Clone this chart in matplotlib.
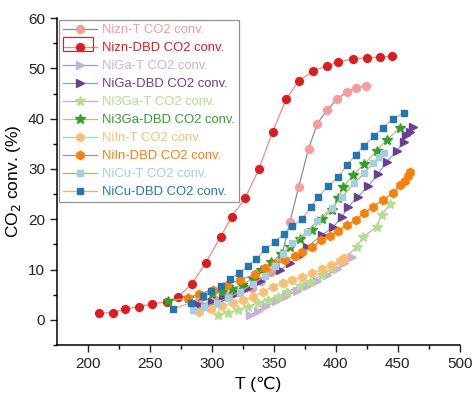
import matplotlib
matplotlib.use("Agg")
import matplotlib.pyplot as plt
from matplotlib.patches import Rectangle

plt.rcParams['font.family'] = ['Liberation Sans', 'DejaVu Sans']

# ---- data ----
nizn_t_T = [290, 302, 313, 322, 332, 340, 348, 356, 363, 370, 378, 385, 393, 401, 409, 416, 424]
nizn_t_v = [3.8, 4.2, 4.8, 5.6, 6.4, 7.8, 9.5, 12.3, 19.5, 26.4, 34.0, 39.0, 41.7, 43.9, 45.3, 46.1, 46.5]

nizn_dbd_T = [209, 220, 230, 241, 252, 264, 273, 284, 295, 307, 316, 327, 338, 349,
              360, 370, 382, 393, 402, 414, 425, 436, 445]
nizn_dbd_v = [1.4, 1.4, 2.2, 2.6, 3.2, 3.6, 4.6, 7.2, 11.3, 16.5, 20.5, 24.3, 30.0, 37.4,
              43.9, 47.5, 49.5, 50.5, 51.3, 51.9, 52.1, 52.3, 52.4]

niga_t_T = [331, 337, 344, 352, 360, 369, 377, 385, 393, 401, 407, 413]
niga_t_v = [1.0, 1.8, 2.8, 3.8, 4.8, 5.8, 6.8, 7.8, 8.9, 10.1, 11.3, 12.5]

niga_dbd_T = [290, 300, 309, 320, 329, 339, 355, 363, 370, 377, 389, 398, 405, 410,
              418, 426, 434, 441, 449, 455, 457, 460, 462]
niga_dbd_v = [3.0, 3.6, 4.4, 5.4, 6.4, 7.8, 9.9, 11.3, 12.7, 14.5, 16.9, 18.5, 20.5, 22.5,
              24.5, 26.6, 29.0, 31.4, 33.6, 35.4, 36.8, 37.4, 38.4]

ni3ga_t_T = [305, 313, 321, 329, 337, 345, 353, 361, 371, 379, 389, 397, 405, 417, 422, 433, 437, 444]
ni3ga_t_v = [1.0, 1.4, 2.0, 2.6, 3.4, 4.0, 4.6, 5.6, 6.8, 7.6, 8.9, 10.3, 11.9, 14.5, 16.5, 18.5, 20.9, 23.1]

ni3ga_dbd_T = [265, 281, 291, 300, 308, 316, 324, 333, 340, 348, 356, 363, 371, 381, 389,
               397, 402, 406, 414, 423, 433, 441, 452]
ni3ga_dbd_v = [3.8, 4.3, 4.7, 5.2, 5.6, 6.2, 7.0, 8.2, 9.9, 11.5, 13.1, 14.5, 16.1, 17.9, 20.1,
               21.9, 24.2, 26.4, 28.8, 31.0, 33.6, 35.8, 38.2]

niin_t_T = [290, 299, 308, 317, 325, 333, 341, 349, 357, 365, 373, 381, 389, 396, 403, 407]
niin_t_v = [1.6, 2.2, 2.8, 3.4, 4.0, 4.6, 5.6, 6.6, 7.4, 8.0, 8.5, 9.3, 10.1, 10.9, 11.7, 12.3]

niin_dbd_T = [281, 290, 301, 312, 323, 335, 343, 351, 359, 367, 373, 381, 388, 395, 402,
              409, 416, 423, 430, 438, 446, 452, 456, 458, 460]
niin_dbd_v = [4.4, 5.2, 6.0, 7.0, 8.0, 9.1, 10.3, 11.1, 11.9, 12.7, 13.5, 14.5, 15.9, 16.7, 17.7,
              18.9, 19.9, 21.3, 22.5, 23.9, 25.2, 26.8, 27.6, 28.6, 29.4]

nicu_t_T = [285, 294, 304, 313, 323, 333, 343, 351, 357, 365, 377, 385, 397, 405, 415, 423, 430, 435, 439]
nicu_t_v = [2.0, 2.6, 3.4, 4.4, 5.6, 7.2, 8.7, 10.7, 13.1, 15.3, 17.5, 19.7, 22.3, 24.5, 27.2,
            29.2, 31.2, 32.4, 33.2]

nicu_dbd_T = [269, 283, 293, 299, 307, 315, 322, 329, 336, 343, 351, 358, 365, 373, 380,
              386, 394, 402, 409, 416, 423, 431, 438, 446, 455]
nicu_dbd_v = [2.2, 3.4, 4.8, 5.8, 6.8, 8.2, 9.3, 10.7, 12.1, 14.1, 15.5, 17.1, 18.7, 20.1, 22.5,
              24.5, 26.6, 28.4, 30.8, 32.8, 34.6, 36.6, 38.2, 40.0, 41.2]

series = [
    ("Nizn-T CO2 conv.", nizn_t_T, nizn_t_v, 'o', '#fb9a99', '#8c8c8c', 5.6),
    ("Nizn-DBD CO2 conv.", nizn_dbd_T, nizn_dbd_v, 'o', '#e31a1c', '#f08a8a', 5.6),
    ("NiGa-T CO2 conv.", niga_t_T, niga_t_v, '>', '#cab2d6', '#8fa3c8', 6),
    ("NiGa-DBD CO2 conv.", niga_dbd_T, niga_dbd_v, '>', '#6a3d9a', '#6cb8b0', 6),
    ("Ni3Ga-T CO2 conv.", ni3ga_t_T, ni3ga_t_v, '*', '#b2df8a', '#c9a6dc', 7),
    ("Ni3Ga-DBD CO2 conv.", ni3ga_dbd_T, ni3ga_dbd_v, '*', '#33a02c', '#c8b870', 7),
    ("NiIn-T CO2 conv.", niin_t_T, niin_t_v, 'h', '#fdbf6f', '#7fdede', 6),
    ("NiIn-DBD CO2 conv.", niin_dbd_T, niin_dbd_v, 'h', '#ff7f00', '#a88aa8', 6),
    ("NiCu-T CO2 conv.", nicu_t_T, nicu_t_v, 's', '#a6cee3', '#b8b46a', 5),
    ("NiCu-DBD CO2 conv.", nicu_dbd_T, nicu_dbd_v, 's', '#1f78b4', '#f4a878', 5),
]

fig = plt.figure(figsize=(4.74, 3.93), dpi=100)
ax = fig.add_axes([0.120, 0.122, 0.850, 0.832])

for label, T, v, mk, mcol, lcol, ms in series:
    ax.plot(T, v, color=lcol, lw=0.9, marker=mk, markersize=ms,
            markerfacecolor=mcol, markeredgecolor=mcol, label=label)

ax.set_xlim(175, 500)
ax.set_ylim(-5, 60)
ax.set_xticks([200, 250, 300, 350, 400, 450, 500])
ax.set_xticks([225, 275, 325, 375, 425, 475], minor=True)
ax.set_yticks([0, 10, 20, 30, 40, 50, 60])
ax.set_yticks([-5, 5, 15, 25, 35, 45, 55], minor=True)
ax.tick_params(which='major', direction='out', length=5, width=1, labelsize=11, colors='#222222')
ax.tick_params(which='minor', direction='out', length=3, width=1)
ax.spines['top'].set_visible(False)
ax.spines['right'].set_visible(False)
for s in ('left', 'bottom'):
    ax.spines[s].set_linewidth(1.1)

ax.set_xlabel('T (℃)', fontsize=12.5, labelpad=4)
ax.set_ylabel('CO$_2$ conv. (%)', fontsize=12.5, labelpad=4)

leg = ax.legend(loc='upper left', fontsize=9.4, frameon=True, fancybox=False,
                edgecolor='#777777', borderaxespad=0.15, handlelength=2.6,
                labelspacing=0.45, borderpad=0.3, handletextpad=0.4)
leg.get_frame().set_linewidth(0.9)
for txt, s in zip(leg.get_texts(), series):
    txt.set_color(s[4])

# red selection box around the second legend handle
fig.patches.append(Rectangle((63 / 474, 1 - 51 / 393), 30 / 474, 14 / 393,
                             transform=fig.transFigure, fill=False,
                             edgecolor='#e31a1c', lw=0.8))

fig.savefig('out.png', dpi=100)
